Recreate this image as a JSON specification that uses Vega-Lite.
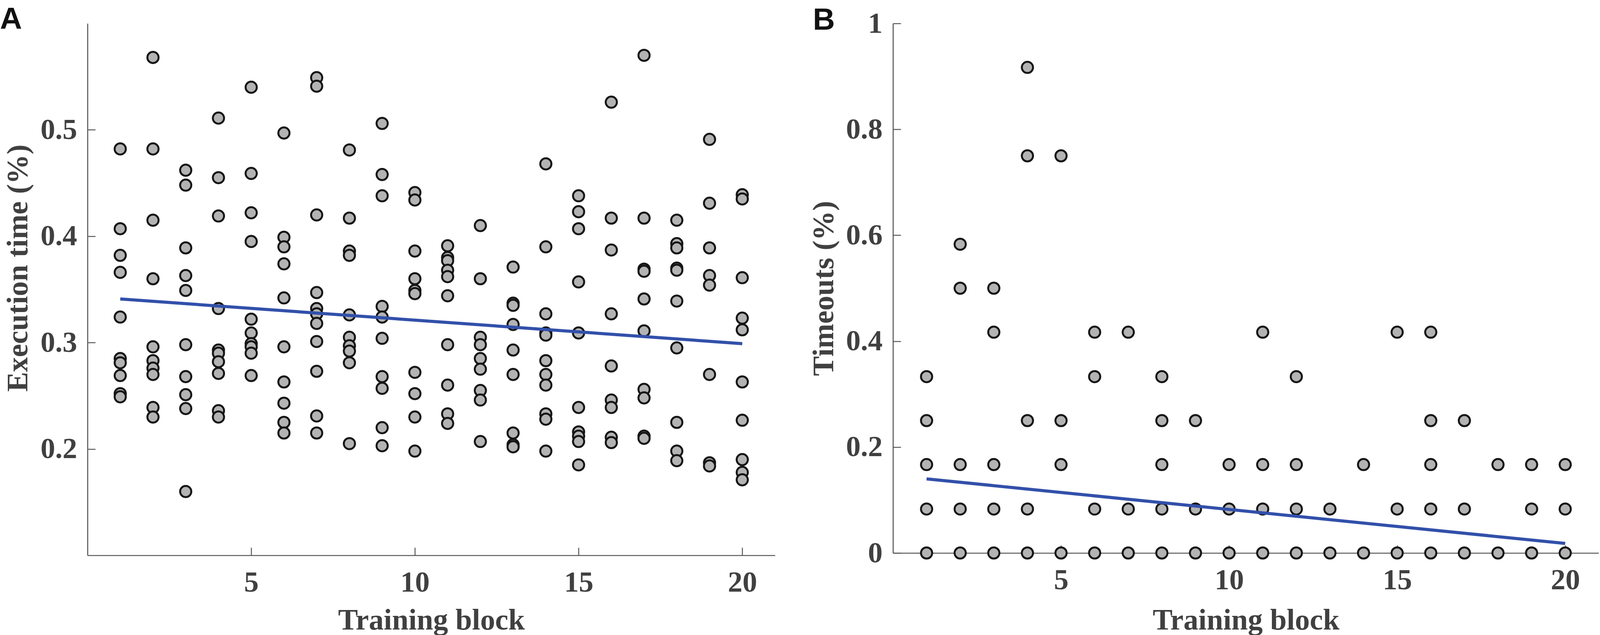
{
  "$schema": "https://vega.github.io/schema/vega-lite/v6.json",
  "description": "Execution time and timeouts across 20 training blocks, with linear trend lines.",
  "padding": {"left": 0, "top": 12, "right": 0, "bottom": 0},
  "background": "white",
  "spacing": 302,
  "bounds": "flush",
  "datasets": {
    "exec": [
      {"block": 1, "time": 0.482}, {"block": 1, "time": 0.407}, {"block": 1, "time": 0.382}, {"block": 1, "time": 0.366}, {"block": 1, "time": 0.324},
      {"block": 1, "time": 0.285}, {"block": 1, "time": 0.281}, {"block": 1, "time": 0.269}, {"block": 1, "time": 0.252}, {"block": 1, "time": 0.249},
      {"block": 2, "time": 0.568}, {"block": 2, "time": 0.482}, {"block": 2, "time": 0.415}, {"block": 2, "time": 0.360}, {"block": 2, "time": 0.296},
      {"block": 2, "time": 0.283}, {"block": 2, "time": 0.276}, {"block": 2, "time": 0.270}, {"block": 2, "time": 0.239}, {"block": 2, "time": 0.230},
      {"block": 3, "time": 0.462}, {"block": 3, "time": 0.448}, {"block": 3, "time": 0.389}, {"block": 3, "time": 0.363}, {"block": 3, "time": 0.349},
      {"block": 3, "time": 0.298}, {"block": 3, "time": 0.268}, {"block": 3, "time": 0.251}, {"block": 3, "time": 0.238}, {"block": 3, "time": 0.160},
      {"block": 4, "time": 0.511}, {"block": 4, "time": 0.455}, {"block": 4, "time": 0.419}, {"block": 4, "time": 0.332}, {"block": 4, "time": 0.293},
      {"block": 4, "time": 0.290}, {"block": 4, "time": 0.282}, {"block": 4, "time": 0.271}, {"block": 4, "time": 0.236}, {"block": 4, "time": 0.230},
      {"block": 5, "time": 0.540}, {"block": 5, "time": 0.459}, {"block": 5, "time": 0.422}, {"block": 5, "time": 0.395}, {"block": 5, "time": 0.322},
      {"block": 5, "time": 0.309}, {"block": 5, "time": 0.299}, {"block": 5, "time": 0.296}, {"block": 5, "time": 0.290}, {"block": 5, "time": 0.269},
      {"block": 6, "time": 0.497}, {"block": 6, "time": 0.399}, {"block": 6, "time": 0.390}, {"block": 6, "time": 0.374}, {"block": 6, "time": 0.342},
      {"block": 6, "time": 0.296}, {"block": 6, "time": 0.263}, {"block": 6, "time": 0.243}, {"block": 6, "time": 0.225}, {"block": 6, "time": 0.215},
      {"block": 7, "time": 0.549}, {"block": 7, "time": 0.541}, {"block": 7, "time": 0.420}, {"block": 7, "time": 0.347}, {"block": 7, "time": 0.332},
      {"block": 7, "time": 0.327}, {"block": 7, "time": 0.318}, {"block": 7, "time": 0.301}, {"block": 7, "time": 0.273}, {"block": 7, "time": 0.231},
      {"block": 7, "time": 0.215},
      {"block": 8, "time": 0.481}, {"block": 8, "time": 0.417}, {"block": 8, "time": 0.386}, {"block": 8, "time": 0.382}, {"block": 8, "time": 0.326},
      {"block": 8, "time": 0.305}, {"block": 8, "time": 0.297}, {"block": 8, "time": 0.292}, {"block": 8, "time": 0.281}, {"block": 8, "time": 0.205},
      {"block": 9, "time": 0.506}, {"block": 9, "time": 0.458}, {"block": 9, "time": 0.438}, {"block": 9, "time": 0.334}, {"block": 9, "time": 0.324},
      {"block": 9, "time": 0.304}, {"block": 9, "time": 0.268}, {"block": 9, "time": 0.257}, {"block": 9, "time": 0.220}, {"block": 9, "time": 0.203},
      {"block": 10, "time": 0.441}, {"block": 10, "time": 0.434}, {"block": 10, "time": 0.386}, {"block": 10, "time": 0.360}, {"block": 10, "time": 0.349},
      {"block": 10, "time": 0.346}, {"block": 10, "time": 0.272}, {"block": 10, "time": 0.252}, {"block": 10, "time": 0.230}, {"block": 10, "time": 0.198},
      {"block": 11, "time": 0.391}, {"block": 11, "time": 0.380}, {"block": 11, "time": 0.377}, {"block": 11, "time": 0.368}, {"block": 11, "time": 0.362},
      {"block": 11, "time": 0.344}, {"block": 11, "time": 0.298}, {"block": 11, "time": 0.260}, {"block": 11, "time": 0.233}, {"block": 11, "time": 0.224},
      {"block": 12, "time": 0.410}, {"block": 12, "time": 0.360}, {"block": 12, "time": 0.305}, {"block": 12, "time": 0.298}, {"block": 12, "time": 0.285},
      {"block": 12, "time": 0.275}, {"block": 12, "time": 0.255}, {"block": 12, "time": 0.246}, {"block": 12, "time": 0.207},
      {"block": 13, "time": 0.371}, {"block": 13, "time": 0.337}, {"block": 13, "time": 0.335}, {"block": 13, "time": 0.317}, {"block": 13, "time": 0.293},
      {"block": 13, "time": 0.270}, {"block": 13, "time": 0.215}, {"block": 13, "time": 0.204}, {"block": 13, "time": 0.202},
      {"block": 14, "time": 0.468}, {"block": 14, "time": 0.390}, {"block": 14, "time": 0.327}, {"block": 14, "time": 0.309}, {"block": 14, "time": 0.307},
      {"block": 14, "time": 0.283}, {"block": 14, "time": 0.270}, {"block": 14, "time": 0.260}, {"block": 14, "time": 0.233}, {"block": 14, "time": 0.228},
      {"block": 14, "time": 0.198},
      {"block": 15, "time": 0.438}, {"block": 15, "time": 0.423}, {"block": 15, "time": 0.407}, {"block": 15, "time": 0.357}, {"block": 15, "time": 0.309},
      {"block": 15, "time": 0.239}, {"block": 15, "time": 0.216}, {"block": 15, "time": 0.212}, {"block": 15, "time": 0.207}, {"block": 15, "time": 0.185},
      {"block": 16, "time": 0.526}, {"block": 16, "time": 0.417}, {"block": 16, "time": 0.387}, {"block": 16, "time": 0.327}, {"block": 16, "time": 0.278},
      {"block": 16, "time": 0.246}, {"block": 16, "time": 0.239}, {"block": 16, "time": 0.211}, {"block": 16, "time": 0.206},
      {"block": 17, "time": 0.570}, {"block": 17, "time": 0.417}, {"block": 17, "time": 0.369}, {"block": 17, "time": 0.367}, {"block": 17, "time": 0.341},
      {"block": 17, "time": 0.311}, {"block": 17, "time": 0.256}, {"block": 17, "time": 0.248}, {"block": 17, "time": 0.212}, {"block": 17, "time": 0.210},
      {"block": 18, "time": 0.415}, {"block": 18, "time": 0.393}, {"block": 18, "time": 0.389}, {"block": 18, "time": 0.370}, {"block": 18, "time": 0.368},
      {"block": 18, "time": 0.339}, {"block": 18, "time": 0.295}, {"block": 18, "time": 0.225}, {"block": 18, "time": 0.198}, {"block": 18, "time": 0.189},
      {"block": 19, "time": 0.491}, {"block": 19, "time": 0.431}, {"block": 19, "time": 0.389}, {"block": 19, "time": 0.363}, {"block": 19, "time": 0.354},
      {"block": 19, "time": 0.270}, {"block": 19, "time": 0.187}, {"block": 19, "time": 0.184},
      {"block": 20, "time": 0.439}, {"block": 20, "time": 0.435}, {"block": 20, "time": 0.361}, {"block": 20, "time": 0.323}, {"block": 20, "time": 0.312},
      {"block": 20, "time": 0.263}, {"block": 20, "time": 0.227}, {"block": 20, "time": 0.190}, {"block": 20, "time": 0.178}, {"block": 20, "time": 0.171}
    ],
    "execFit": [
      {"block": 1, "time": 0.341},
      {"block": 20, "time": 0.299}
    ],
    "timeouts": [
      {"block": 1, "rate": 0.333}, {"block": 1, "rate": 0.25}, {"block": 1, "rate": 0.167}, {"block": 1, "rate": 0.083}, {"block": 1, "rate": 0},
      {"block": 2, "rate": 0.583}, {"block": 2, "rate": 0.5}, {"block": 2, "rate": 0.167}, {"block": 2, "rate": 0.083}, {"block": 2, "rate": 0},
      {"block": 3, "rate": 0.5}, {"block": 3, "rate": 0.417}, {"block": 3, "rate": 0.167}, {"block": 3, "rate": 0.083}, {"block": 3, "rate": 0},
      {"block": 4, "rate": 0.917}, {"block": 4, "rate": 0.75}, {"block": 4, "rate": 0.25}, {"block": 4, "rate": 0.083}, {"block": 4, "rate": 0},
      {"block": 5, "rate": 0.75}, {"block": 5, "rate": 0.25}, {"block": 5, "rate": 0.167}, {"block": 5, "rate": 0},
      {"block": 6, "rate": 0.417}, {"block": 6, "rate": 0.333}, {"block": 6, "rate": 0.083}, {"block": 6, "rate": 0},
      {"block": 7, "rate": 0.417}, {"block": 7, "rate": 0.083}, {"block": 7, "rate": 0},
      {"block": 8, "rate": 0.333}, {"block": 8, "rate": 0.25}, {"block": 8, "rate": 0.167}, {"block": 8, "rate": 0.083}, {"block": 8, "rate": 0},
      {"block": 9, "rate": 0.25}, {"block": 9, "rate": 0.083}, {"block": 9, "rate": 0},
      {"block": 10, "rate": 0.167}, {"block": 10, "rate": 0.083}, {"block": 10, "rate": 0},
      {"block": 11, "rate": 0.417}, {"block": 11, "rate": 0.167}, {"block": 11, "rate": 0.083}, {"block": 11, "rate": 0},
      {"block": 12, "rate": 0.333}, {"block": 12, "rate": 0.167}, {"block": 12, "rate": 0.083}, {"block": 12, "rate": 0},
      {"block": 13, "rate": 0.083}, {"block": 13, "rate": 0},
      {"block": 14, "rate": 0.167}, {"block": 14, "rate": 0},
      {"block": 15, "rate": 0.417}, {"block": 15, "rate": 0.083}, {"block": 15, "rate": 0},
      {"block": 16, "rate": 0.417}, {"block": 16, "rate": 0.25}, {"block": 16, "rate": 0.167}, {"block": 16, "rate": 0.083}, {"block": 16, "rate": 0},
      {"block": 17, "rate": 0.25}, {"block": 17, "rate": 0.083}, {"block": 17, "rate": 0},
      {"block": 18, "rate": 0.167}, {"block": 18, "rate": 0},
      {"block": 19, "rate": 0.167}, {"block": 19, "rate": 0.083}, {"block": 19, "rate": 0},
      {"block": 20, "rate": 0.167}, {"block": 20, "rate": 0.083}, {"block": 20, "rate": 0}
    ],
    "timeoutsFit": [
      {"block": 1, "rate": 0.140},
      {"block": 20, "rate": 0.018}
    ]
  },
  "hconcat": [
    {
      "title": {"text": "A", "anchor": "start", "frame": "group", "font": "Liberation Sans", "fontSize": 78, "fontWeight": "bold", "color": "#111111", "baseline": "alphabetic", "offset": 0, "dx": -224, "dy": 92},
      "width": 1760,
      "height": 1362,
      "layer": [
        {
          "data": {"name": "exec"},
          "mark": {"type": "point", "shape": "circle", "filled": true, "fill": "#b3b3b3", "stroke": "#151515", "strokeWidth": 5, "size": 820, "opacity": 1},
          "encoding": {
            "x": {"field": "block", "type": "quantitative", "scale": {"domain": [0, 21], "nice": false, "zero": false},
              "axis": {"values": [5, 10, 15, 20], "format": "d", "title": "Training block", "titleBaseline": "alphabetic", "titleY": 189}},
            "y": {"field": "time", "type": "quantitative", "scale": {"domain": [0.1, 0.6], "nice": false, "zero": false},
              "axis": {"values": [0.2, 0.3, 0.4, 0.5], "format": ".1f", "title": "Execution time (%)", "titleBaseline": "alphabetic", "titleX": -155, "titleY": 626}}
          }
        },
        {
          "data": {"name": "execFit"},
          "mark": {"type": "line", "color": "#3250aa", "strokeWidth": 8},
          "encoding": {
            "x": {"field": "block", "type": "quantitative"},
            "y": {"field": "time", "type": "quantitative"}
          }
        }
      ]
    },
    {
      "title": {"text": "B", "anchor": "start", "frame": "group", "font": "Liberation Sans", "fontSize": 78, "fontWeight": "bold", "color": "#111111", "baseline": "alphabetic", "offset": 0, "dx": -205, "dy": 131},
      "width": 1807,
      "height": 1356,
      "layer": [
        {
          "data": {"name": "timeouts"},
          "mark": {"type": "point", "shape": "circle", "filled": true, "fill": "#b3b3b3", "stroke": "#151515", "strokeWidth": 5, "size": 820, "opacity": 1},
          "encoding": {
            "x": {"field": "block", "type": "quantitative", "scale": {"domain": [0, 21], "nice": false, "zero": false},
              "axis": {"values": [5, 10, 15, 20], "format": "d", "title": "Training block", "titleBaseline": "alphabetic", "titleY": 195}},
            "y": {"field": "rate", "type": "quantitative", "scale": {"domain": [0, 1], "nice": false},
              "axis": {"values": [0, 0.2, 0.4, 0.6, 0.8, 1], "format": "~g", "title": "Timeouts (%)", "titleBaseline": "alphabetic", "titleX": -154, "titleY": 678}}
          }
        },
        {
          "data": {"name": "timeoutsFit"},
          "mark": {"type": "line", "color": "#3250aa", "strokeWidth": 8},
          "encoding": {
            "x": {"field": "block", "type": "quantitative"},
            "y": {"field": "rate", "type": "quantitative"}
          }
        }
      ]
    }
  ],
  "config": {
    "view": {"stroke": null},
    "font": "Liberation Serif",
    "axis": {
      "grid": false,
      "domainColor": "#5a5a5a",
      "domainWidth": 2.7,
      "tickColor": "#5a5a5a",
      "tickWidth": 2.5,
      "tickSize": -20,
      "labelFont": "Liberation Serif",
      "labelFontSize": 75,
      "labelFontWeight": "bold",
      "labelColor": "#404040",
      "titleFont": "Liberation Serif",
      "titleFontSize": 76,
      "titleFontWeight": "bold",
      "titleColor": "#404040"
    },
    "axisX": {"labelPadding": 53},
    "axisY": {"labelPadding": 47}
  }
}
